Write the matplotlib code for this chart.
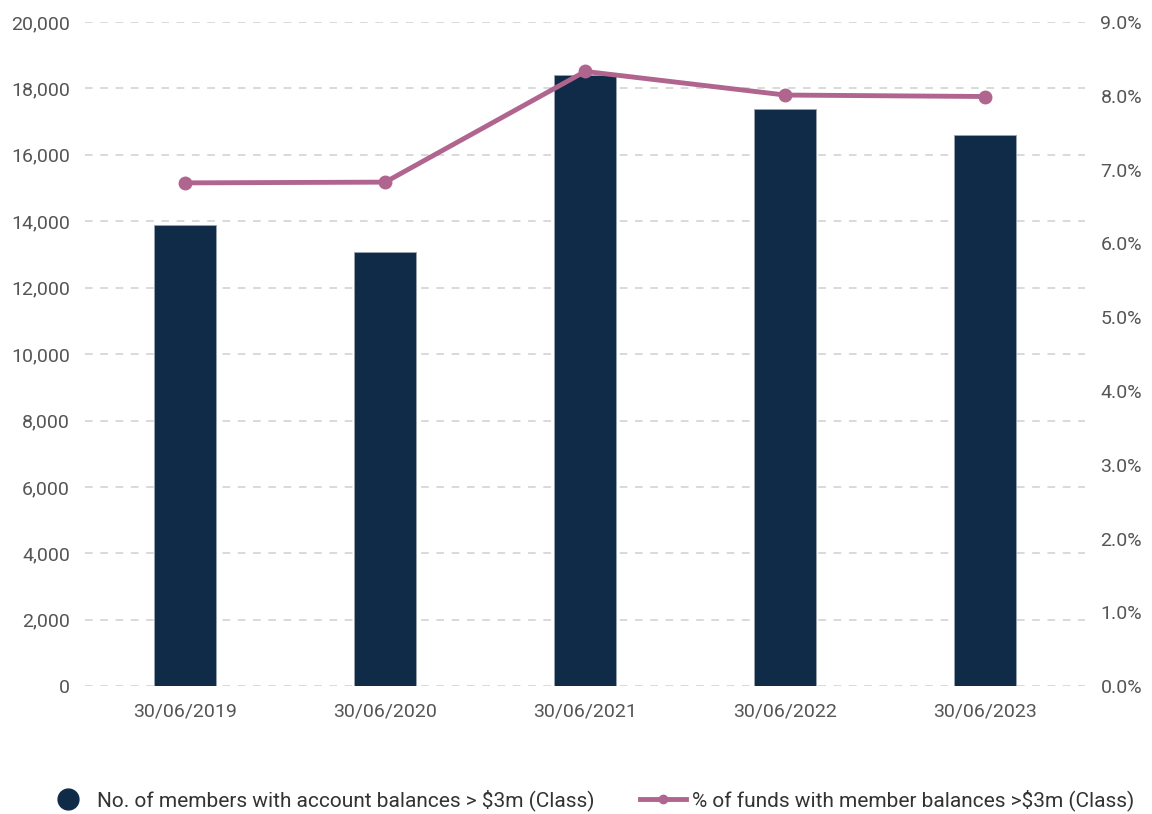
import matplotlib.pyplot as plt
from matplotlib.lines import Line2D
from matplotlib.ticker import FuncFormatter

plt.rcParams['font.family'] = ['Roboto', 'DejaVu Sans']

dates = ['30/06/2019', '30/06/2020', '30/06/2021', '30/06/2022', '30/06/2023']
members = [13890, 13070, 18400, 17380, 16600]
pct_funds = [6.82, 6.83, 8.33, 8.01, 7.99]

bar_color = '#0f2b48'
line_color = '#b0658f'
tick_color = '#555555'

fig = plt.figure(figsize=(11.52, 8.14), dpi=100)
ax = fig.add_axes([0.074, 0.157, 0.868, 0.816])
ax2 = ax.twinx()

x = list(range(len(dates)))
ax.bar(x, members, width=0.31, color=bar_color, edgecolor='#9aa4ae', linewidth=0.6, zorder=3)
ax2.plot(x, pct_funds, color=line_color, linewidth=3.5, marker='o', markersize=9, zorder=4)

ax.set_xlim(-0.5, 4.5)
ax.set_ylim(0, 20000)
ax.set_yticks(range(0, 20001, 2000))
ax.yaxis.set_major_formatter(FuncFormatter(lambda v, p: f'{int(v):,}'))
ax2.set_ylim(0, 9)
ax2.set_yticks([i for i in range(10)])
ax2.yaxis.set_major_formatter(FuncFormatter(lambda v, p: f'{v:.1f}%'))

ax.set_xticks(x)
ax.set_xticklabels(dates)
ax.grid(axis='y', linestyle=(0, (5, 5)), color='#d0d0d0', linewidth=1.1, zorder=0)
ax.set_axisbelow(True)

for a in (ax, ax2):
    for s in a.spines.values():
        s.set_visible(False)
    a.tick_params(length=0, labelsize=14, colors=tick_color)
ax.tick_params(axis='y', pad=11)
ax2.tick_params(axis='y', pad=11)
ax.tick_params(axis='x', pad=12)

handles = [
    Line2D([], [], linestyle='none', marker='o', markersize=15, color=bar_color),
    Line2D([], [], color=line_color, linewidth=3.5, marker='o', markersize=6),
]
labels = ['No. of members with account balances > $3m (Class)',
          '% of funds with member balances >$3m (Class)']
fig.legend(handles, labels, loc='center', bbox_to_anchor=(0.512, 0.017),
           ncol=2, frameon=False, fontsize=15, labelcolor='#333333',
           handlelength=2.2, handletextpad=0.3, columnspacing=2.2)

fig.savefig('out.png', dpi=100)
